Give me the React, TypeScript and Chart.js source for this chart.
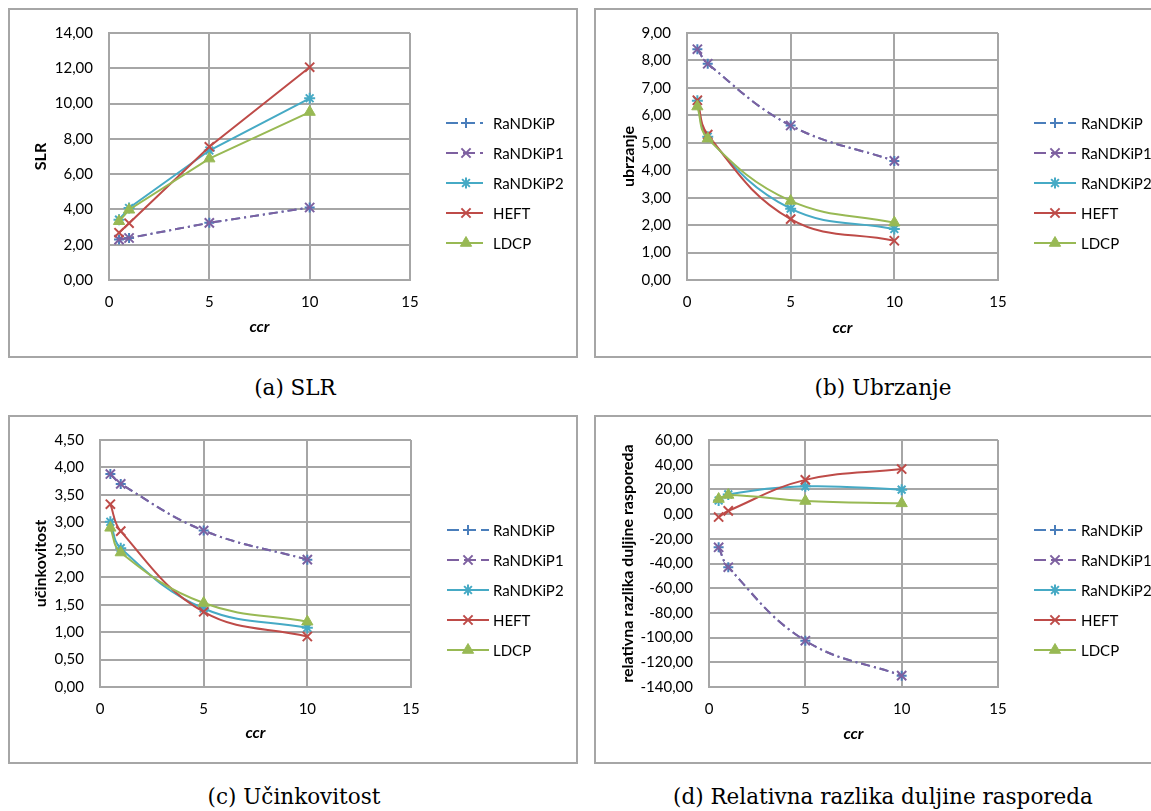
import React, { useEffect, useRef } from 'react';
import { Chart, registerables } from 'chart.js';
import { drawPoint } from 'chart.js/helpers';

Chart.register(...registerables);

// ---------- data ----------
const ccr = [0.5, 1, 5, 10];
const seriesNames = ['RaNDKiP', 'RaNDKiP1', 'RaNDKiP2', 'HEFT', 'LDCP'];

// (a) SLR
const slrRaNDKiP = [2.29, 2.38, 3.24, 4.11];
const slrRaNDKiP1 = [2.29, 2.38, 3.24, 4.11];
const slrRaNDKiP2 = [3.42, 4.08, 7.34, 10.3];
const slrHEFT = [2.68, 3.22, 7.55, 12.06];
const slrLDCP = [3.33, 3.98, 6.88, 9.52];

// (b) Ubrzanje
const ubrRaNDKiP = [8.41, 7.88, 5.63, 4.34];
const ubrRaNDKiP1 = [8.41, 7.88, 5.63, 4.34];
const ubrRaNDKiP2 = [6.53, 5.22, 2.6, 1.86];
const ubrHEFT = [6.55, 5.3, 2.22, 1.43];
const ubrLDCP = [6.32, 5.15, 2.88, 2.09];

// (c) Učinkovitost
const ucRaNDKiP = [3.88, 3.7, 2.85, 2.32];
const ucRaNDKiP1 = [3.88, 3.7, 2.85, 2.32];
const ucRaNDKiP2 = [3.01, 2.53, 1.43, 1.08];
const ucHEFT = [3.33, 2.84, 1.37, 0.92];
const ucLDCP = [2.9, 2.45, 1.53, 1.19];

// (d) Relativna razlika duljine rasporeda
const rrRaNDKiP = [-26.9, -43.0, -102.5, -130.8];
const rrRaNDKiP1 = [-26.9, -43.0, -102.5, -130.8];
const rrRaNDKiP2 = [11.0, 15.9, 22.5, 19.8];
const rrHEFT = [-2.4, 2.6, 27.7, 36.5];
const rrLDCP = [12.2, 15.5, 10.6, 8.7];

const xMin = 0;
const xMax = 15;
const xStep = 5;

// ---------- styles ----------
const seriesColors = ['#4A7EBB', '#7D60A0', '#46AAC5', '#BE4B48', '#98B954'];
const seriesDash = [[9, 4, 2, 4], [9, 4, 2, 4], [], [], []];
const legendDash = [[12, 5], [12, 5], [], [], []];
const seriesMarkers = ['cross', 'crossRot', 'star', 'crossRot', 'triangle'];
const seriesMarkerRadius = [5, 6.5, 5.5, 6.5, 6.5];
const seriesMarkerBorder = [2, 2, 2, 2, 1];

const FONT = 'Lato, "Open Sans", sans-serif';
const GRID = '#a6a6a6';

type PanelCfg = {
  key: string;
  left: number;
  top: number;
  W: number;
  H: number;
  plot: { l: number; r: number; t: number; b: number };
  yTitle: string;
  yTitleX: number;
  xTitleY: number;
  yMin: number;
  yMax: number;
  yStep: number;
  tension: number;
  series: number[][];
  legend: { x0: number; x1: number; mx: number; tx: number; y0: number; dy: number };
  caption: string;
  capX: number;
  capY: number;
};

const panels: PanelCfg[] = [
  {
    key: 'a', left: 8, top: 8, W: 570, H: 350,
    plot: { l: 101, r: 402, t: 20, b: 272 },
    yTitle: 'SLR', yTitleX: 33, xTitleY: 319,
    yMin: 0, yMax: 14, yStep: 2, tension: 0,
    series: [slrRaNDKiP, slrRaNDKiP1, slrRaNDKiP2, slrHEFT, slrLDCP],
    legend: { x0: 438, x1: 475, mx: 458, tx: 485, y0: 115, dy: 30 },
    caption: '(a) SLR', capX: 295, capY: 388,
  },
  {
    key: 'b', left: 594, top: 8, W: 570, H: 350,
    plot: { l: 93, r: 404, t: 20, b: 272 },
    yTitle: 'ubrzanje', yTitleX: 35, xTitleY: 320,
    yMin: 0, yMax: 9, yStep: 1, tension: 0.4,
    series: [ubrRaNDKiP, ubrRaNDKiP1, ubrRaNDKiP2, ubrHEFT, ubrLDCP],
    legend: { x0: 440, x1: 482, mx: 461, tx: 487, y0: 115, dy: 30 },
    caption: '(b) Ubrzanje', capX: 883, capY: 388,
  },
  {
    key: 'c', left: 8, top: 415, W: 570, H: 349,
    plot: { l: 92, r: 403, t: 20, b: 272 },
    yTitle: 'učinkovitost', yTitleX: 33, xTitleY: 318,
    yMin: 0, yMax: 4.5, yStep: 0.5, tension: 0.4,
    series: [ucRaNDKiP, ucRaNDKiP1, ucRaNDKiP2, ucHEFT, ucLDCP],
    legend: { x0: 439, x1: 481, mx: 460, tx: 485, y0: 115, dy: 30 },
    caption: '(c) Učinkovitost', capX: 294, capY: 797,
  },
  {
    key: 'd', left: 594, top: 415, W: 570, H: 349,
    plot: { l: 115, r: 404, t: 19, b: 272 },
    yTitle: 'relativna razlika duljine rasporeda', yTitleX: 33.5, xTitleY: 319,
    yMin: -140, yMax: 60, yStep: 20, tension: 0.4,
    series: [rrRaNDKiP, rrRaNDKiP1, rrRaNDKiP2, rrHEFT, rrLDCP],
    legend: { x0: 440, x1: 482, mx: 461, tx: 487, y0: 115, dy: 30 },
    caption: '(d) Relativna razlika duljine rasporeda', capX: 883, capY: 797,
  },
];

const sideLegend = {
  id: 'sideLegend',
  afterDraw(chart: any, _args: any, opts: any) {
    const ctx = chart.ctx as CanvasRenderingContext2D;
    chart.data.datasets.forEach((ds: any, i: number) => {
      const y = opts.y0 + i * opts.dy;
      ctx.save();
      ctx.strokeStyle = ds.borderColor;
      ctx.lineWidth = ds.borderWidth;
      ctx.setLineDash(legendDash[i]);
      ctx.beginPath();
      ctx.moveTo(opts.x0, y);
      ctx.lineTo(opts.x1, y);
      ctx.stroke();
      ctx.setLineDash([]);
      ctx.fillStyle = ds.pointBackgroundColor;
      ctx.strokeStyle = ds.pointBorderColor;
      ctx.lineWidth = ds.pointBorderWidth;
      drawPoint(ctx, { pointStyle: ds.pointStyle, radius: ds.pointRadius, borderWidth: ds.pointBorderWidth, rotation: 0 } as any, opts.mx, y);
      ctx.fillStyle = '#000';
      ctx.font = `15px ${FONT}`;
      ctx.textAlign = 'left';
      ctx.textBaseline = 'middle';
      ctx.fillText(ds.label, opts.tx, y + 1);
      ctx.restore();
    });
  },
};

const fmt = (v: number) => v.toFixed(2).replace('.', ',');

function Panel({ cfg }: { cfg: PanelCfg }) {
  const ref = useRef<HTMLCanvasElement | null>(null);
  useEffect(() => {
    if (!ref.current) return;
    const { W, H, plot } = cfg;
    const datasets = cfg.series.map((vals, i) => ({
      label: seriesNames[i],
      data: ccr.map((x, j) => ({ x, y: vals[j] })),
      borderColor: seriesColors[i],
      backgroundColor: seriesColors[i],
      borderWidth: 2,
      borderDash: seriesDash[i],
      pointStyle: seriesMarkers[i],
      pointRadius: seriesMarkerRadius[i],
      pointBorderWidth: seriesMarkerBorder[i],
      pointBackgroundColor: seriesColors[i],
      pointBorderColor: seriesColors[i],
      tension: cfg.tension,
      fill: false,
      order: seriesNames.length - i,
    }));
    const chart = new Chart(ref.current, {
      type: 'line',
      data: { datasets },
      plugins: [sideLegend as any],
      options: {
        animation: false,
        responsive: false,
        maintainAspectRatio: false,
        devicePixelRatio: 1,
        layout: { padding: { left: 0, top: plot.t, right: W - plot.r, bottom: 0 } },
        plugins: {
          legend: { display: false },
          tooltip: { enabled: false },
          sideLegend: cfg.legend,
        } as any,
        scales: {
          x: {
            type: 'linear',
            min: xMin,
            max: xMax,
            ticks: {
              stepSize: xStep,
              color: '#000',
              font: { family: FONT, size: 15 },
              padding: 13,
              callback: (v: any) => String(v),
            },
            grid: { color: GRID, lineWidth: 2, drawTicks: false },
            border: { color: GRID, width: 2 },
            title: {
              display: true,
              text: 'ccr',
              color: '#000',
              font: { family: FONT, size: 16, weight: 'bold', style: 'italic' },
              padding: { top: 0, bottom: H - cfg.xTitleY - 9.6 },
            },
            afterFit: (s: any) => {
              s.height = H - plot.b;
            },
          },
          y: {
            type: 'linear',
            min: cfg.yMin,
            max: cfg.yMax,
            ticks: {
              stepSize: cfg.yStep,
              color: '#000',
              font: { family: FONT, size: 15 },
              padding: 16,
              callback: (v: any) => fmt(Number(v)),
            },
            grid: { color: GRID, lineWidth: 2, drawTicks: false },
            border: { color: GRID, width: 2 },
            title: {
              display: true,
              text: cfg.yTitle,
              color: '#000',
              font: { family: FONT, size: 16, weight: 'bold' },
              padding: { top: cfg.yTitleX - 9.6, bottom: 0 },
            },
            afterFit: (s: any) => {
              s.width = plot.l;
            },
          },
        },
      } as any,
    });
    return () => chart.destroy();
  }, [cfg]);
  return (
    <>
      <div style={{ position: 'absolute', left: cfg.left, top: cfg.top, width: cfg.W, height: cfg.H }}>
        <canvas ref={ref} width={cfg.W} height={cfg.H} style={{ position: 'absolute', left: 0, top: 0, width: cfg.W, height: cfg.H }} />
        <div
          style={{
            position: 'absolute', left: 0, top: 0, width: cfg.W, height: cfg.H,
            boxSizing: 'border-box', border: `2px solid ${GRID}`, pointerEvents: 'none',
          }}
        />
      </div>
      <div
        style={{
          position: 'absolute', left: cfg.capX - 300, top: cfg.capY - 14, width: 600, height: 28,
          lineHeight: '28px', textAlign: 'center', fontFamily: '"DejaVu Serif", serif', fontSize: 21.5, color: '#000',
          whiteSpace: 'nowrap',
        }}
      >
        {cfg.caption}
      </div>
    </>
  );
}

export default function App() {
  return (
    <div style={{ position: 'fixed', left: 0, top: 0, width: 1151, height: 811, overflow: 'hidden', background: '#fff' }}>
      {panels.map((p) => (
        <Panel key={p.key} cfg={p} />
      ))}
    </div>
  );
}
